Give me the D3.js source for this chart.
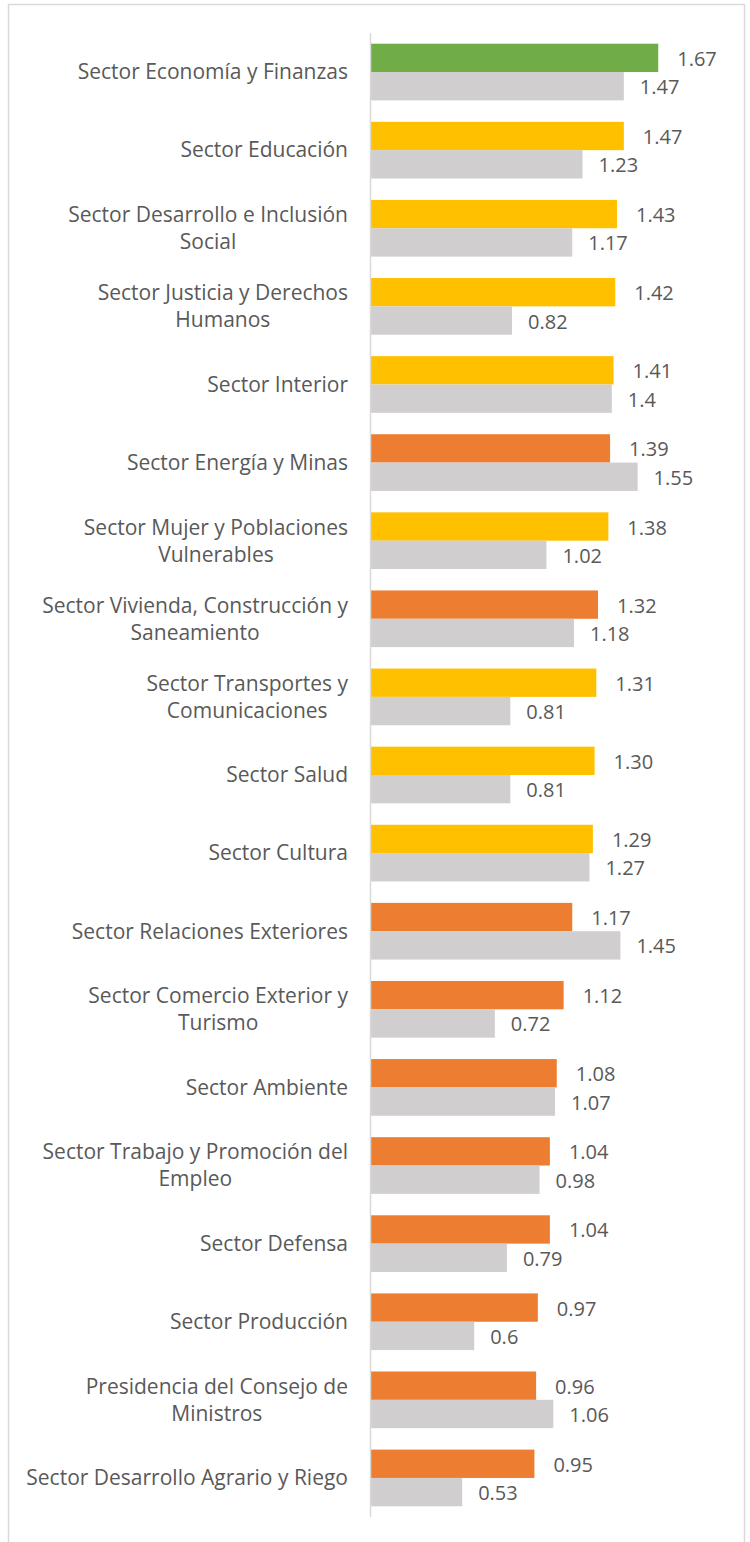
<!DOCTYPE html>
<html>
<head>
<meta charset="utf-8">
<title>Sectores</title>
<script src="https://d3js.org/d3.v7.min.js"></script>
<style>
  body { margin: 0; background: #fff; }
</style>
</head>
<body>
<div id="chart"></div>
<script>
// datos
const categorias = [
  "Sector Economía y Finanzas",
  "Sector Educación",
  "Sector Desarrollo e Inclusión\nSocial",
  "Sector Justicia y Derechos\nHumanos",
  "Sector Interior",
  "Sector Energía y Minas",
  "Sector Mujer y Poblaciones\nVulnerables",
  "Sector Vivienda, Construcción y\nSaneamiento",
  "Sector Transportes y\nComunicaciones",
  "Sector Salud",
  "Sector Cultura",
  "Sector Relaciones Exteriores",
  "Sector Comercio Exterior y\nTurismo",
  "Sector Ambiente",
  "Sector Trabajo y Promoción del\nEmpleo",
  "Sector Defensa",
  "Sector Producción",
  "Presidencia del Consejo de\nMinistros",
  "Sector Desarrollo Agrario y Riego"
];
const valoresActual = [1.67, 1.47, 1.43, 1.42, 1.41, 1.39, 1.38, 1.32, 1.31, 1.30,
  1.29, 1.17, 1.12, 1.08, 1.04, 1.04, 0.97, 0.96, 0.95];
const valoresPrevio = [1.47, 1.23, 1.17, 0.82, 1.4, 1.55, 1.02, 1.18, 0.81, 0.81,
  1.27, 1.45, 0.72, 1.07, 0.98, 0.79, 0.6, 1.06, 0.53];
// grupo de cada sector (define el color de la barra principal)
const grupos = ["mejor", "mejora", "mejora", "mejora", "mejora", "baja", "mejora", "baja", "mejora", "mejora",
  "mejora", "baja", "baja", "baja", "baja", "baja", "baja", "baja", "baja"];

const colores = { mejor: "#70AD47", mejora: "#FFC000", baja: "#ED7D31" };
const colorPrevio = "#D0CECE";
const colorTexto = "#595959";
const fuente = "'Open Sans', sans-serif";

const W = 750, H = 1542;
const svg = d3.select("#chart").append("svg")
  .attr("width", W).attr("height", H);

// marco
svg.append("rect")
  .attr("x", 8.5).attr("y", 4.5)
  .attr("width", 736).attr("height", H + 20)
  .attr("fill", "none").attr("stroke", "#d9d9d9").attr("stroke-width", 1.5);

const x = d3.scaleLinear().domain([0, 1.8]).range([371, 371 + 1.8 * 172]);
const y = d3.scaleBand().domain(d3.range(categorias.length)).range([33, 1517]);
const y1 = d3.scaleBand().domain(["actual", "previo"])
  .range([0, y.bandwidth()]).paddingOuter(0.378);

const filas = categorias.map((c, i) => ({
  i: i, cat: c, actual: valoresActual[i], previo: valoresPrevio[i], grupo: grupos[i]
}));

const g = svg.selectAll("g.fila").data(filas).enter().append("g")
  .attr("class", "fila")
  .attr("transform", d => "translate(0," + y(d.i) + ")");

g.append("rect")
  .attr("x", x(0)).attr("y", y1("actual"))
  .attr("width", d => x(d.actual) - x(0)).attr("height", y1.bandwidth())
  .attr("fill", d => colores[d.grupo]);

g.append("rect")
  .attr("x", x(0)).attr("y", y1("previo"))
  .attr("width", d => x(d.previo) - x(0)).attr("height", y1.bandwidth())
  .attr("fill", colorPrevio);

const fmt = d3.format(".2f");
g.append("text")
  .attr("x", d => x(d.actual) + 19)
  .attr("y", y1("actual") + y1.bandwidth() / 2 + 1)
  .attr("dy", "0.35em")
  .attr("font-family", fuente).attr("font-size", "20px")
  .attr("fill", colorTexto)
  .text(d => fmt(d.actual));

g.append("text")
  .attr("x", d => x(d.previo) + 16)
  .attr("y", y1("previo") + y1.bandwidth() / 2 + 1)
  .attr("dy", "0.35em")
  .attr("font-family", fuente).attr("font-size", "20px")
  .attr("fill", colorTexto)
  .text(d => String(d.previo));

// etiquetas de categoria: bloque alineado al eje, lineas centradas
const derecha = 348, interlinea = 27;
g.each(function(d) {
  const lineas = d.cat.split("\n");
  const t = d3.select(this).append("text")
    .attr("font-family", fuente).attr("font-size", "21px")
    .attr("fill", colorTexto)
    .attr("text-anchor", "middle");
  const spans = lineas.map((l, k) => t.append("tspan")
    .attr("y", y.bandwidth() / 2 + (k - (lineas.length - 1) / 2) * interlinea)
    .attr("dy", "0.35em")
    .text(l));
  const ancho = d3.max(spans, s => s.node().getComputedTextLength());
  spans.forEach(s => s.attr("x", derecha - ancho / 2));
});

// eje vertical
svg.append("line")
  .attr("x1", 370.5).attr("x2", 370.5)
  .attr("y1", y.range()[0]).attr("y2", y.range()[1])
  .attr("stroke", "#d9d9d9").attr("stroke-width", 1.5);
</script>
</body>
</html>
